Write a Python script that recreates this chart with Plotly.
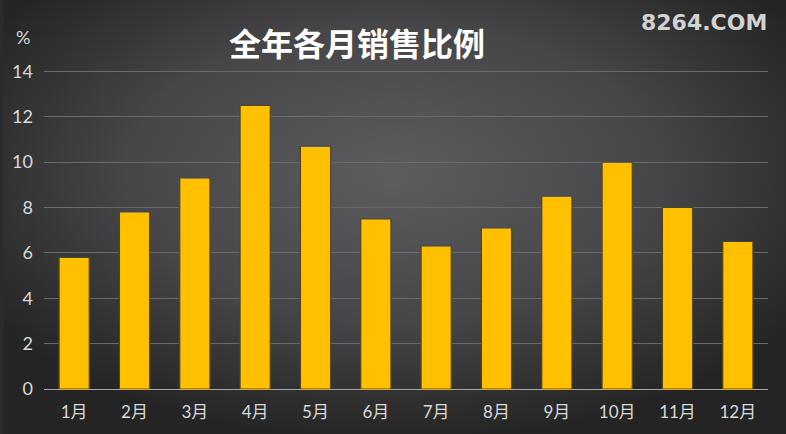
import plotly.graph_objects as go

# datos
meses = ['1月', '2月', '3月', '4月', '5月', '6月', '7月', '8月', '9月', '10月', '11月', '12月']
ventas = [5.8, 7.8, 9.3, 12.5, 10.7, 7.5, 6.3, 7.1, 8.5, 10.0, 8.0, 6.5]
y_ticks = [0, 2, 4, 6, 8, 10, 12, 14]

titulo = '全年各月销售比例'
marca = '8264.COM'

W, H = 786, 434
ml, mr, mt, mb = 41, 18, 69, 45
pw = W - ml - mr
ph = H - mt - mb

fuente = 'Lato, "Noto Sans CJK SC", sans-serif'

# fondo con degradado radial (svg en data uri)
svg = (
    "<svg xmlns='http://www.w3.org/2000/svg' width='786' height='434'>"
    "<defs><radialGradient id='g' cx='50%' cy='40%' r='62%'>"
    "<stop offset='0' stop-color='%235d5c5e'/>"
    "<stop offset='0.55' stop-color='%23464547'/>"
    "<stop offset='1' stop-color='%23242424'/>"
    "</radialGradient></defs>"
    "<rect width='786' height='434' fill='url(%23g)'/></svg>"
)
fondo = "data:image/svg+xml;utf8," + svg


def py(px):
    # posicion vertical en pixeles -> coordenadas paper
    return 1 + (mt - px) / ph


def px_x(px):
    return (px - ml) / pw


fig = go.Figure()

fig.add_trace(go.Bar(
    x=meses,
    y=ventas,
    marker=dict(color='#ffc000', line=dict(color='#5a4512', width=1.2)),
    hoverinfo='x+y',
))

fig.add_layout_image(dict(
    source=fondo,
    xref='paper', yref='paper',
    x=-ml / pw, y=1 + mt / ph,
    sizex=W / pw, sizey=H / ph,
    xanchor='left', yanchor='top',
    sizing='stretch', layer='below',
))

fig.add_annotation(x=px_x(355), y=py(42), xref='paper', yref='paper',
                   xanchor='center', yanchor='middle',
                   text='<b>' + titulo + '</b>', showarrow=False,
                   font=dict(family='"Noto Sans CJK SC"', size=32, color='#ffffff'))

fig.add_annotation(x=px_x(20), y=py(37), xref='paper', yref='paper',
                   xanchor='center', yanchor='middle',
                   text='%', showarrow=False,
                   font=dict(family=fuente, size=18, color='#d9d9d9'))

fig.add_annotation(x=px_x(769), y=py(23), xref='paper', yref='paper',
                   xanchor='right', yanchor='middle',
                   text='<b>' + marca + '</b>', showarrow=False,
                   font=dict(family='"DejaVu Sans"', size=22, color='#d2d2d2'))

fig.update_xaxes(
    showline=True, linecolor='#a6a6a6', linewidth=1,
    showgrid=False, ticks='',
    tickfont=dict(family=fuente, size=17, color='#d9d9d9'),
    ticklabelstandoff=8,
)
fig.update_yaxes(
    range=[0, 14.1], tickvals=y_ticks,
    showgrid=True, gridcolor='#6a6a6a', gridwidth=1,
    zeroline=False, showline=False, ticks='',
    tickfont=dict(family=fuente, size=18, color='#d9d9d9'),
    ticklabelstandoff=10,
)

fig.update_layout(
    width=W, height=H,
    margin=dict(l=ml, r=mr, t=mt, b=mb),
    paper_bgcolor='#2b2b2b',
    plot_bgcolor='rgba(0,0,0,0)',
    bargap=0.5,
    showlegend=False,
)

fig.write_html("out.html",
               config={'displayModeBar': False},
               post_script="document.body.style.margin='0';document.body.style.overflow='hidden';")
